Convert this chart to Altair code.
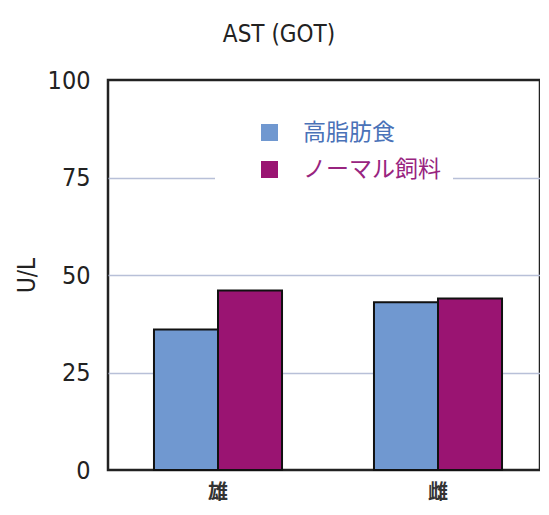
import altair as alt
import pandas as pd

title_text = "AST (GOT)"
y_title = "U/L"
categories = ["雄", "雌"]
series = ["高脂肪食", "ノーマル飼料"]
high_fat = [36, 43]
normal_feed = [46, 44]
y_ticks = [0, 25, 50, 75, 100]
bar_colors = ["#7098d0", "#9a1472"]
label_colors = ["#4a72b8", "#98247f"]

rows = []
for i, c in enumerate(categories):
    rows.append({"sex": c, "diet": series[0], "value": high_fat[i]})
    rows.append({"sex": c, "diet": series[1], "value": normal_feed[i]})
df = pd.DataFrame(rows)

num_font = "Liberation Sans Narrow, DejaVu Sans Condensed, Liberation Sans, sans-serif"
jp_font = "Noto Sans CJK JP"

label_expr = "datum.value === '%s' ? '%s' : '%s'" % (series[0], label_colors[0], label_colors[1])
grid_color = {"condition": {"test": "datum.value == 0 || datum.value == 100",
                            "value": "transparent"},
              "value": "#b8c0d8"}

chart = alt.Chart(df).mark_bar(stroke="#111111", strokeWidth=2).encode(
    x=alt.X("sex:N", sort=categories,
            scale=alt.Scale(paddingInner=0.418, paddingOuter=0.209, range=[0, 440]),
            axis=alt.Axis(title=None, labelAngle=0, domain=False, ticks=False,
                          labelFont=jp_font, labelFontSize=20, labelFontWeight="bold",
                          labelColor="#333333", labelPadding=12)),
    xOffset=alt.XOffset("diet:N", sort=series, scale=alt.Scale(paddingInner=0, paddingOuter=0)),
    y=alt.Y("value:Q", scale=alt.Scale(domain=[0, 100], nice=False),
            axis=alt.Axis(title=y_title, values=y_ticks, domain=False, ticks=False,
                          labelFont=num_font, labelFontSize=25, labelColor="#222222",
                          labelPadding=18, titleFont=num_font, titleFontSize=24,
                          titleFontWeight="normal", titleColor="#222222", titlePadding=8,
                          gridColor=grid_color, gridWidth=1.5)),
    color=alt.Color("diet:N", sort=series,
                    scale=alt.Scale(domain=series, range=bar_colors),
                    legend=alt.Legend(title=None, orient="none", legendX=107, legendY=29,
                                      fillColor="white", padding=12,
                                      symbolType="square", symbolSize=289,
                                      symbolStrokeWidth=0, symbolOffset=31,
                                      labelFont=jp_font, labelFontSize=23,
                                      labelColor={"expr": label_expr},
                                      labelOffset=22, rowPadding=13)),
).properties(
    width=432, height=390,
    padding={"left": 100, "top": 72, "right": 0, "bottom": 36},
    autosize=alt.AutoSizeParams(type="none"),
    background="white",
    title=alt.TitleParams(title_text, font=num_font, fontSize=24, fontWeight="normal",
                          color="#222222", anchor="middle", dx=-45, offset=21),
).configure_view(
    stroke="#222222", strokeWidth=2.5
)

chart.save("out.html", embed_options={"renderer": "svg", "actions": False})
